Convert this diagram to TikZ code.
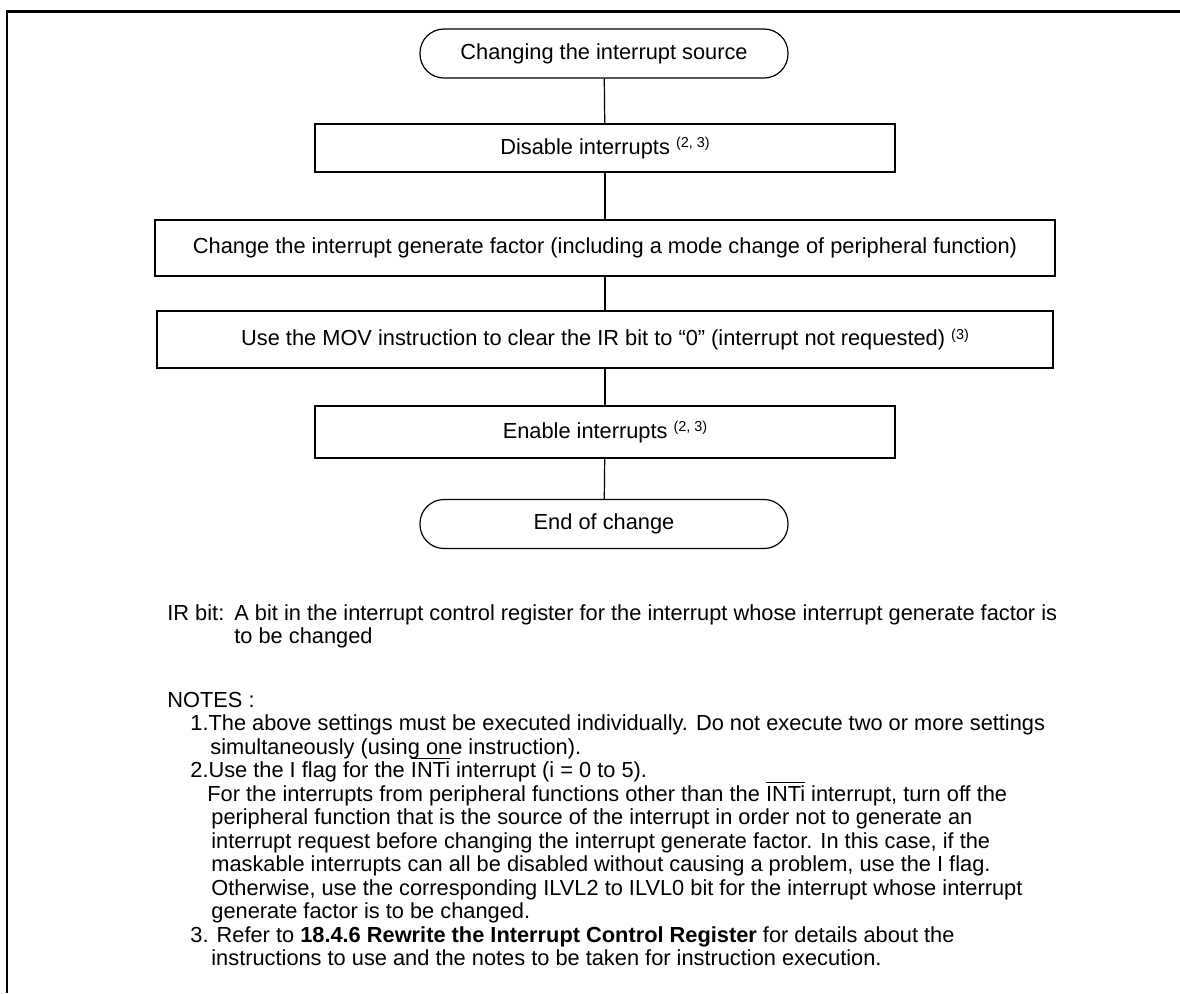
\documentclass[tikz,border=0pt]{standalone}
\usepackage{fontspec}
\setmainfont{Liberation Sans}
\newcommand\supnote[1]{\raisebox{0.6ex}{\fontsize{7.2}{7.2}\selectfont(#1)}}
\newcommand\ovl[1]{$\overline{\mbox{#1}}$}
\begin{document}
\begin{tikzpicture}[x=0.5pt,y=-0.5pt,
  every node/.style={font=\fontsize{10.9}{11.75}\selectfont, inner sep=0pt},
  term/.style={draw, line width=0.6pt, rounded corners=12pt, minimum width=184pt, minimum height=24.5pt, align=center},
  proc/.style={draw, line width=0.6pt, align=center},
  link/.style={line width=0.6pt},
  note/.style={anchor=base west}]
\useasboundingbox (0,0) rectangle (1180,993);
\draw[line width=1.5pt] (6,11.5) -- (1180,11.5);
\draw[line width=1pt] (7,10.5) -- (7,993);
% flowchart
\node[term] (start) at (604,53.5) {Changing the interrupt source};
\node[proc, minimum width=290pt, minimum height=24pt] (b1) at (605,148) {Disable interrupts \supnote{2, 3}};
\node[proc, minimum width=450pt, minimum height=28pt] (b2) at (605,248) {Change the interrupt generate factor (including a mode change of peripheral function)};
\node[proc, minimum width=448pt, minimum height=28.5pt] (b3) at (605,339.5) {Use the MOV instruction to clear the IR bit to “0” (interrupt not requested) \supnote{3}};
\node[proc, minimum width=290pt, minimum height=26pt] (b4) at (605,432) {Enable interrupts \supnote{2, 3}};
\node[term] (stop) at (604,524) {End of change};
\draw[link] (start) -- (b1);
\draw[link] (b1) -- (b2);
\draw[link] (b2) -- (b3);
\draw[link] (b3) -- (b4);
\draw[link] (b4) -- (stop);
% notes
\node[note] (ir) at (167,620) {IR bit:};
\node[note] (ir1) at (234,620) {A bit in the interrupt control register for the interrupt whose interrupt generate factor is};
\node[note] (ir2) at (234,643) {to be changed};
\node[note] (notes) at (167,707) {NOTES :};
\node[note] (n1) at (190,730) {1.The above settings must be executed individually. Do not execute two or more settings};
\node[note] (n1b) at (210,754) {simultaneously (using one instruction).};
\node[note] (n2) at (190,777) {2.Use the I flag for the \ovl{INTi} interrupt (i = 0 to 5).};
\node[note] (n2a) at (207,801) {For the interrupts from peripheral functions other than the \ovl{INTi} interrupt, turn off the};
\node[note] (n2b) at (211,824) {peripheral function that is the source of the interrupt in order not to generate an};
\node[note] (n2c) at (211,848) {interrupt request before changing the interrupt generate factor. In this case, if the};
\node[note] (n2d) at (211,871) {maskable interrupts can all be disabled without causing a problem, use the I flag.};
\node[note] (n2e) at (211,895) {Otherwise, use the corresponding ILVL2 to ILVL0 bit for the interrupt whose interrupt};
\node[note] (n2f) at (211,918) {generate factor is to be changed.};
\node[note] (n3) at (190,942) {3. Refer to \textbf{18.4.6 Rewrite the Interrupt Control Register} for details about the};
\node[note] (n3b) at (211,965) {instructions to use and the notes to be taken for instruction execution.};
\end{tikzpicture}
\end{document}
